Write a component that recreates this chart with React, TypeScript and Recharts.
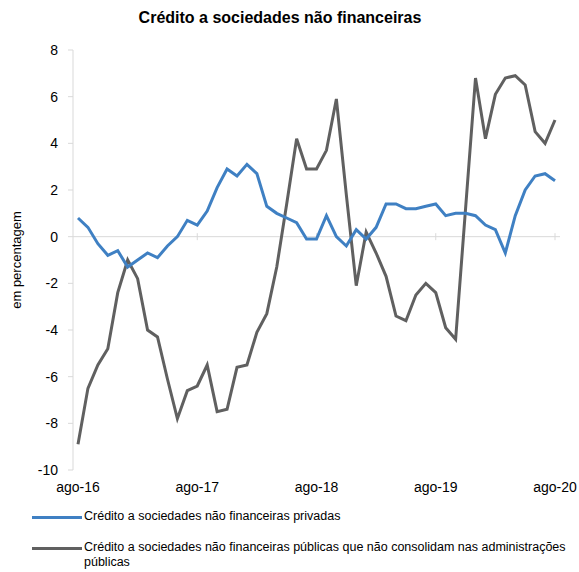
import { LineChart, Line, XAxis, YAxis, ReferenceLine } from 'recharts';

const dates = [
  'ago-16', 'set-16', 'out-16', 'nov-16', 'dez-16',
  'jan-17', 'fev-17', 'mar-17', 'abr-17', 'mai-17', 'jun-17', 'jul-17', 'ago-17', 'set-17', 'out-17', 'nov-17', 'dez-17',
  'jan-18', 'fev-18', 'mar-18', 'abr-18', 'mai-18', 'jun-18', 'jul-18', 'ago-18', 'set-18', 'out-18', 'nov-18', 'dez-18',
  'jan-19', 'fev-19', 'mar-19', 'abr-19', 'mai-19', 'jun-19', 'jul-19', 'ago-19', 'set-19', 'out-19', 'nov-19', 'dez-19',
  'jan-20', 'fev-20', 'mar-20', 'abr-20', 'mai-20', 'jun-20', 'jul-20', 'ago-20'
];

const privadas = [
  0.8, 0.4, -0.3, -0.8, -0.6, -1.3, -1.0, -0.7, -0.9, -0.4, 0.0, 0.7, 0.5,
  1.1, 2.1, 2.9, 2.6, 3.1, 2.7, 1.3, 1.0, 0.8, 0.6, -0.1, -0.1, 0.9,
  0.0, -0.4, 0.3, -0.1, 0.4, 1.4, 1.4, 1.2, 1.2, 1.3, 1.4, 0.9, 1.0,
  1.0, 0.9, 0.5, 0.3, -0.7, 0.9, 2.0, 2.6, 2.7, 2.4
];

const publicas = [
  -8.9, -6.5, -5.5, -4.8, -2.4, -1.0, -1.8, -4.0, -4.3, -6.1, -7.8, -6.6, -6.4,
  -5.5, -7.5, -7.4, -5.6, -5.5, -4.1, -3.3, -1.3, 1.4, 4.2, 2.9, 2.9, 3.7,
  5.9, 1.8, -2.1, 0.2, -0.7, -1.7, -3.4, -3.6, -2.5, -2.0, -2.4, -3.9, -4.4,
  1.2, 6.8, 4.2, 6.1, 6.8, 6.9, 6.5, 4.5, 4.0, 5.0
];

const yearTicks = ['ago-16', 'ago-17', 'ago-18', 'ago-19', 'ago-20'];
const yTicks = [-10, -8, -6, -4, -2, 0, 2, 4, 6, 8];

const seriesNames = [
  'Crédito a sociedades não financeiras privadas',
  'Crédito a sociedades não financeiras públicas que não consolidam nas administrações públicas'
];

const BLUE = '#3f80c3';
const GRAY = '#606060';
const AXIS = '#d9d9d9';
const FONT = '"Liberation Sans", Arial, sans-serif';

const data = dates.map((d, i) => ({ date: d, privadas: privadas[i], publicas: publicas[i] }));

const YLabel = ({ viewBox }: any) => {
  const cy = viewBox.y + viewBox.height / 2;
  return (
    <text x={16} y={cy} transform={`rotate(-90 16 ${cy})`} textAnchor="middle"
      dominantBaseline="central" fontSize={13} fill="#000" fontFamily={FONT}>
      em percentagem
    </text>
  );
};

export default function App() {
  return (
    <div style={{ position: 'absolute', left: 0, top: 0, width: 579, height: 572, background: '#fff', fontFamily: FONT }}>
      <div style={{ position: 'absolute', left: 0, top: 9, width: 560, textAlign: 'center', fontSize: 16, fontWeight: 'bold' }}>
        Crédito a sociedades não financeiras
      </div>
      <LineChart width={579} height={505} data={data} margin={{ top: 50, right: 19, bottom: 5, left: 0 }}>
        <ReferenceLine y={0} stroke={AXIS} strokeWidth={1} />
        {yearTicks.slice(1).map((t) => (
          <ReferenceLine key={t} segment={[{ x: t, y: -0.15 }, { x: t, y: 0.15 }]} stroke={AXIS} />
        ))}
        <XAxis dataKey="date" ticks={yearTicks} interval={0} axisLine={false} tickLine={false}
          padding={{ left: 5, right: 5 }} height={30} tickMargin={6}
          tick={{ fontSize: 14, fill: '#000', fontFamily: FONT }} />
        <YAxis domain={[-10, 8]} ticks={yTicks} width={73} interval={0}
          axisLine={{ stroke: AXIS }} tickLine={{ stroke: AXIS }} tickSize={5} tickMargin={10}
          tick={{ fontSize: 14, fill: '#000', fontFamily: FONT }}
          label={{ content: YLabel }} />
        <Line type="linear" dataKey="publicas" name={seriesNames[1]} stroke={GRAY} strokeWidth={3}
          dot={false} isAnimationActive={false} />
        <Line type="linear" dataKey="privadas" name={seriesNames[0]} stroke={BLUE} strokeWidth={3}
          dot={false} isAnimationActive={false} />
      </LineChart>
      <div style={{ position: 'absolute', left: 32, top: 509, width: 545, fontSize: 12.5, lineHeight: '15px' }}>
        {[BLUE, GRAY].map((c, i) => (
          <div key={c} style={{ display: 'flex', alignItems: 'flex-start', marginBottom: 16 }}>
            <div style={{ width: 50, height: 3, background: c, marginTop: 7, flexShrink: 0 }} />
            <div style={{ paddingLeft: 2 }}>{seriesNames[i]}</div>
          </div>
        ))}
      </div>
    </div>
  );
}
